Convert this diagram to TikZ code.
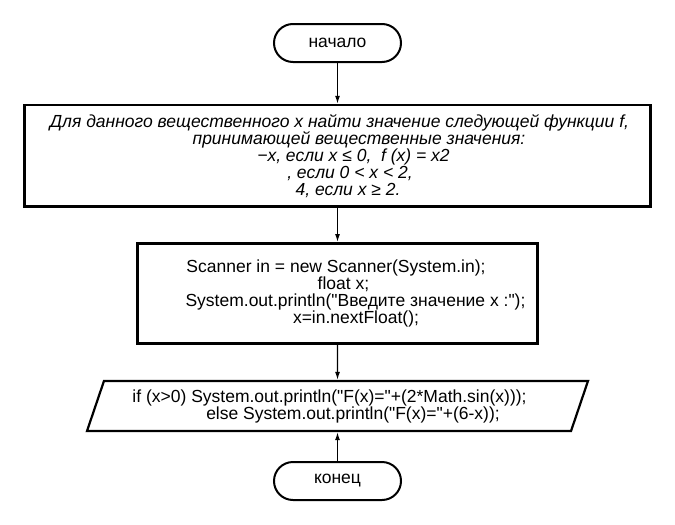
\documentclass[tikz,border=0pt]{standalone}
\usepackage{fontspec}
\setmainfont{Liberation Sans}
\usetikzlibrary{shapes.geometric,arrows.meta}
\newcommand{\dq}{\textquotedbl}
\begin{document}
\begin{tikzpicture}[x=1pt,y=-1pt,
  every node/.style={font=\fontsize{17.5}{17}\selectfont, text=black},
  term/.style={draw, line width=2pt, rectangle, rounded corners=19pt, minimum width=127pt, minimum height=38pt, inner sep=0pt},
  proc/.style={draw, line width=2.5pt, rectangle, inner sep=0pt, align=center},
  iobox/.style={draw, line width=2.2pt, trapezium, trapezium left angle=63, trapezium right angle=117, trapezium stretches body, minimum width=501pt, minimum height=50pt, inner sep=0pt, align=center},
  flow/.style={-{Latex[length=8pt,width=5pt]}, line width=1.3pt}]
\useasboundingbox (0,0) rectangle (675,525);
\node[term] (start) at (337.5,43) {начало};
\node[proc, minimum width=626pt, minimum height=101.5pt, font=\fontsize{17.5}{17}\selectfont\itshape] (task) at (337.5,155.8)
  {\hspace*{4pt}Для данного вещественного x найти значение следующей функции f,\\
   \hspace*{43pt}принимающей вещественные значения:\\
   \hspace*{32pt}−x, если x ≤ 0,\ \ f (x) = x2\\
   \hspace*{25pt}, если 0 < x < 2,\\
   \hspace*{21pt}4, если x ≥ 2.};
\node[proc, minimum width=400pt, minimum height=100pt] (code) at (337.5,293.3)
  {Scanner in = new Scanner(System.in);\hspace*{3pt}\\
   \hspace*{12pt}float x;\\
   \hspace*{36pt}System.out.println(\dq Введите значение x :\dq);\\
   \hspace*{37pt}x=in.nextFloat();};
\node[iobox] (out) at (337.5,406)
  {if (x>0) System.out.println(\dq F(x)=\dq+(2*Math.sin(x)));\hspace*{16pt}\\
   \hspace*{31pt}else System.out.println(\dq F(x)=\dq+(6-x));};
\node[term] (stop) at (337.5,481) {конец};
\draw[flow] (start) -- (task);
\draw[flow] (task) -- (code);
\draw[flow] (code) -- (out);
\draw[flow] (stop) -- (out);
\end{tikzpicture}
\end{document}
